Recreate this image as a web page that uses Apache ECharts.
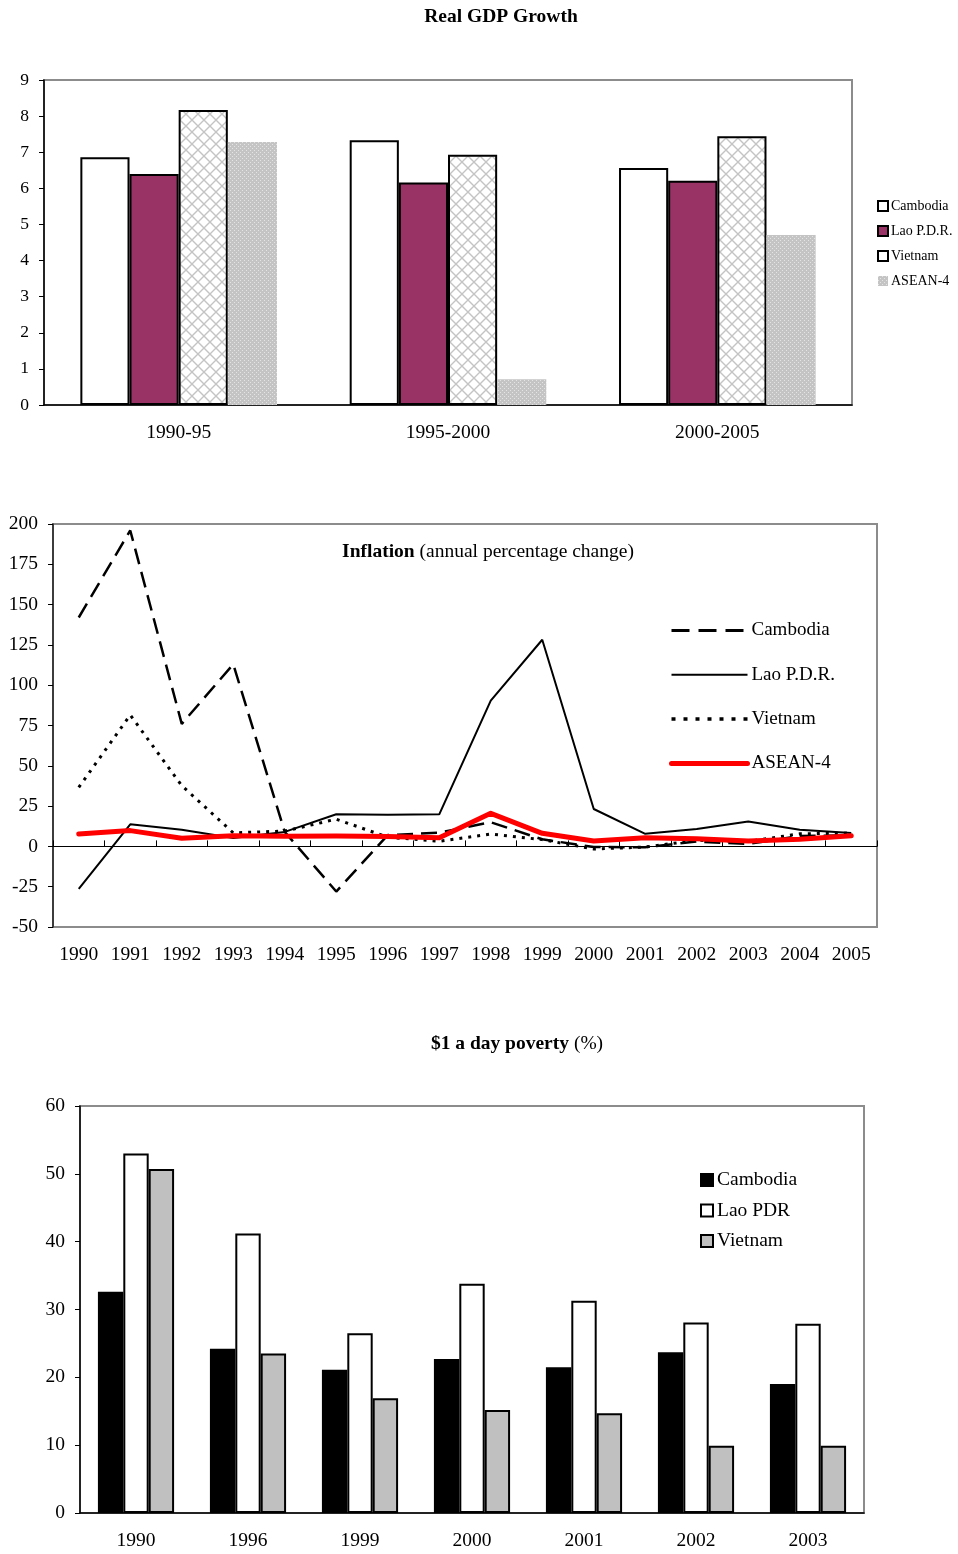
<!DOCTYPE html>
<html>
<head>
<meta charset="utf-8">
<script src="https://cdn.jsdelivr.net/npm/echarts@6/dist/echarts.min.js"></script>
<style>
  html, body { margin: 0; padding: 0; background: #fff; }
  .panel { width: 958px; position: absolute; left: 0; }
  #gdp { top: 0; height: 480px; }
  #infl { top: 480px; height: 520px; }
  #pov { top: 1000px; height: 554px; }
</style>
</head>
<body>
<div id="gdp" class="panel"></div>
<div id="infl" class="panel"></div>
<div id="pov" class="panel"></div>
<script>
const FONT = '"Liberation Serif", "Times New Roman", serif';

// Real GDP growth, period averages (%)
const gdpPeriods = ['1990-95', '1995-2000', '2000-2005'];
const gdpCambodia = [6.86, 7.33, 6.56];
const gdpLao = [6.40, 6.16, 6.21];
const gdpVietnam = [8.17, 6.93, 7.44];
const gdpAsean4 = [7.28, 0.71, 4.71];

// Inflation, annual percentage change
const inflYears = ['1990', '1991', '1992', '1993', '1994', '1995', '1996', '1997',
                   '1998', '1999', '2000', '2001', '2002', '2003', '2004', '2005'];
const inflCambodia = [142, 196, 76, 113, 9, -28, 7, 8.5, 15, 4.4, -0.4, -0.5, 3, 1.5, 6.4, 6.9];
const inflLao = [-26.4, 13.7, 10.3, 5.2, 9, 19.9, 19.6, 19.9, 90.4, 128.2, 23.2, 7.8, 10.8, 15.5, 10.3, 8.3];
const inflVietnam = [36.6, 81.5, 37.7, 8.4, 9.5, 16.9, 5.7, 3.2, 7.7, 4.2, -1.6, -0.4, 3.8, 3.1, 7.8, 8.3];
const inflAsean4 = [7.7, 9.8, 5.0, 6.6, 6.3, 6.5, 6.2, 5.3, 20.5, 8.1, 3.3, 5.4, 4.8, 3.4, 4.4, 6.6];

// $1 a day poverty headcount (%)
const povYears = ['1990', '1996', '1999', '2000', '2001', '2002', '2003'];
const povCambodia = [32.6, 24.2, 21.1, 22.7, 21.5, 23.7, 19.0];
const povLao = [53.0, 41.2, 26.5, 33.8, 31.3, 28.1, 27.9];
const povVietnam = [50.7, 23.5, 16.9, 15.2, 14.7, 9.9, 9.9];

// Fill patterns
function crossHatch() {
  const s = 12;
  const c = document.createElement('canvas');
  c.width = c.height = s;
  const g = c.getContext('2d');
  g.fillStyle = '#ffffff';
  g.fillRect(0, 0, s, s);
  g.strokeStyle = '#c4c4c4';
  g.lineWidth = 1.4;
  g.beginPath();
  g.moveTo(-1, -1); g.lineTo(s + 1, s + 1);
  g.moveTo(s + 1, -1); g.lineTo(-1, s + 1);
  g.stroke();
  return c;
}
function dotScreen() {
  const c = document.createElement('canvas');
  c.width = c.height = 4;
  const g = c.getContext('2d');
  g.fillStyle = '#c4c4c4';
  g.fillRect(0, 0, 4, 4);
  g.fillStyle = '#e4e4e4';
  g.fillRect(0, 0, 1, 1);
  g.fillRect(2, 2, 1, 1);
  return c;
}

const axisText = { fontFamily: FONT, fontSize: 19.5, color: '#000' };
const borderGrey = '#8c8c8c';
const TITLE_SIZE = 19.5;

// ---------- Real GDP Growth ----------
const gdpChart = echarts.init(document.getElementById('gdp'), null, { renderer: 'canvas' });
const barBorder = { borderColor: '#000', borderWidth: 2 };
gdpChart.setOption({
  animation: false,
  graphic: [{
    type: 'text', x: 501, y: 17,
    style: { text: 'Real GDP Growth', font: 'bold ' + TITLE_SIZE + 'px ' + FONT, fill: '#000',
             textAlign: 'center', textVerticalAlign: 'middle' }
  }],
  grid: { left: 44, top: 80, width: 808, height: 325, show: true,
          borderColor: borderGrey, borderWidth: 2 },
  legend: {
    orient: 'vertical', left: 877, top: 199, padding: 0, icon: 'rect',
    itemWidth: 10, itemHeight: 10, itemGap: 11,
    textStyle: { fontFamily: FONT, fontSize: 14, color: '#000', padding: [0, 0, 0, -2] },
    data: ['Cambodia', 'Lao P.D.R.', { name: 'Vietnam', itemStyle: { color: '#fff' } }, 'ASEAN-4']
  },
  xAxis: {
    type: 'category', data: gdpPeriods,
    axisLine: { lineStyle: { color: '#000', width: 1.5 } },
    axisTick: { length: 6, lineStyle: { color: '#000' } },
    axisLabel: Object.assign({ margin: 18 }, axisText)
  },
  yAxis: {
    type: 'value', min: 0, max: 9, interval: 1,
    axisLine: { show: true, lineStyle: { color: '#000', width: 1.5 } },
    axisTick: { show: true, length: 5, lineStyle: { color: '#000' } },
    axisLabel: Object.assign({}, axisText, { margin: 15, fontSize: 17.5 }),
    splitLine: { show: false }
  },
  series: [
    { name: 'Cambodia', type: 'bar', data: gdpCambodia, barGap: '0%', barCategoryGap: '27%',
      itemStyle: Object.assign({ color: '#ffffff' }, barBorder) },
    { name: 'Lao P.D.R.', type: 'bar', data: gdpLao,
      itemStyle: Object.assign({ color: '#993366' }, barBorder) },
    { name: 'Vietnam', type: 'bar', data: gdpVietnam,
      itemStyle: Object.assign({ color: { image: crossHatch(), repeat: 'repeat' } }, barBorder) },
    { name: 'ASEAN-4', type: 'bar', data: gdpAsean4,
      itemStyle: { color: { image: dotScreen(), repeat: 'repeat' }, borderWidth: 0 } }
  ]
});

// ---------- Inflation ----------
const inflChart = echarts.init(document.getElementById('infl'), null, { renderer: 'canvas' });
inflChart.setOption({
  animation: false,
  graphic: [{
    type: 'text', x: 488, y: 72,
    style: {
      text: '{b|Inflation} (annual percentage change)',
      font: TITLE_SIZE + 'px ' + FONT, fill: '#000',
      textAlign: 'center', textVerticalAlign: 'middle',
      rich: { b: { fontWeight: 'bold', fontFamily: FONT, fontSize: TITLE_SIZE } }
    }
  }],
  grid: { left: 53, top: 44, width: 824, height: 403, show: true,
          borderColor: borderGrey, borderWidth: 2 },
  legend: {
    orient: 'vertical', left: 669, top: 141, padding: 0,
    itemWidth: 76, itemHeight: 14, itemGap: 25.3,
    itemStyle: { opacity: 0 },
    textStyle: { fontFamily: FONT, fontSize: 19, color: '#000', padding: [0, 0, 0, -1] },
    data: [
      { name: 'Cambodia', lineStyle: { color: '#000', width: 3, type: [18, 9] } },
      { name: 'Lao P.D.R.', lineStyle: { color: '#000', width: 2, type: 'solid' } },
      { name: 'Vietnam', lineStyle: { color: '#000', width: 3.5, type: [4, 8] } },
      { name: 'ASEAN-4', lineStyle: { color: '#ff0000', width: 5, type: 'solid', cap: 'round' } }
    ]
  },
  xAxis: [
    { // year labels along the bottom edge
      type: 'category', data: inflYears, position: 'bottom',
      axisLine: { show: false, onZero: false },
      axisTick: { show: false },
      axisLabel: Object.assign({ margin: 18, interval: 0 }, axisText)
    },
    { // zero line with tick marks
      type: 'category', data: inflYears, position: 'bottom',
      axisLine: { show: true, onZero: true, lineStyle: { color: '#000', width: 1 } },
      axisTick: { show: true, inside: true, length: 6, interval: 0, lineStyle: { color: '#000' } },
      axisLabel: { show: false }
    }
  ],
  yAxis: {
    type: 'value', min: -50, max: 200, interval: 25,
    axisLine: { show: true, lineStyle: { color: '#222', width: 1.5 } },
    axisTick: { show: true, length: 5, lineStyle: { color: '#000' } },
    axisLabel: Object.assign({}, axisText, { margin: 15, fontSize: 19.5 }),
    splitLine: { show: false }
  },
  series: [
    { name: 'Cambodia', type: 'line', data: inflCambodia, symbol: 'none', z: 3,
      lineStyle: { color: '#000', width: 2.5, type: [16, 8] }, itemStyle: { color: '#000' } },
    { name: 'Lao P.D.R.', type: 'line', data: inflLao, symbol: 'none', z: 3,
      lineStyle: { color: '#000', width: 2 }, itemStyle: { color: '#000' } },
    { name: 'Vietnam', type: 'line', data: inflVietnam, symbol: 'none', z: 3,
      lineStyle: { color: '#000', width: 3, type: [3, 6] }, itemStyle: { color: '#000' } },
    { name: 'ASEAN-4', type: 'line', data: inflAsean4, symbol: 'none', z: 4,
      lineStyle: { color: '#ff0000', width: 5, cap: 'round', join: 'round' }, itemStyle: { color: '#ff0000' } }
  ]
});

// ---------- $1 a day poverty ----------
const povChart = echarts.init(document.getElementById('pov'), null, { renderer: 'canvas' });
const povBorder = { borderColor: '#000', borderWidth: 2 };
povChart.setOption({
  animation: false,
  graphic: [{
    type: 'text', x: 517, y: 44,
    style: {
      text: '{b|$1 a day poverty} (%)',
      font: TITLE_SIZE + 'px ' + FONT, fill: '#000',
      textAlign: 'center', textVerticalAlign: 'middle',
      rich: { b: { fontWeight: 'bold', fontFamily: FONT, fontSize: TITLE_SIZE } }
    }
  }],
  grid: { left: 80, top: 106, width: 784, height: 407, show: true,
          borderColor: borderGrey, borderWidth: 2 },
  legend: {
    orient: 'vertical', left: 700, top: 170, padding: 0, icon: 'rect',
    itemWidth: 12, itemHeight: 12, itemGap: 10.5,
    textStyle: { fontFamily: FONT, fontSize: 19.5, color: '#000', padding: [0, 0, 0, -1] },
    data: ['Cambodia', 'Lao PDR', 'Vietnam']
  },
  xAxis: {
    type: 'category', data: povYears,
    axisLine: { lineStyle: { color: '#000', width: 1.5 } },
    axisTick: { length: 6, lineStyle: { color: '#000' } },
    axisLabel: Object.assign({ margin: 18 }, axisText)
  },
  yAxis: {
    type: 'value', min: 0, max: 60, interval: 10,
    axisLine: { show: true, lineStyle: { color: '#000', width: 1.5 } },
    axisTick: { show: true, length: 5, lineStyle: { color: '#000' } },
    axisLabel: Object.assign({}, axisText, { margin: 15, fontSize: 19.5 }),
    splitLine: { show: false }
  },
  series: [
    { name: 'Cambodia', type: 'bar', data: povCambodia, barGap: '0%', barCategoryGap: '32%',
      itemStyle: Object.assign({ color: '#000000' }, povBorder) },
    { name: 'Lao PDR', type: 'bar', data: povLao,
      itemStyle: Object.assign({ color: '#ffffff' }, povBorder) },
    { name: 'Vietnam', type: 'bar', data: povVietnam,
      itemStyle: Object.assign({ color: '#c0c0c0' }, povBorder) }
  ]
});
</script>
</body>
</html>
